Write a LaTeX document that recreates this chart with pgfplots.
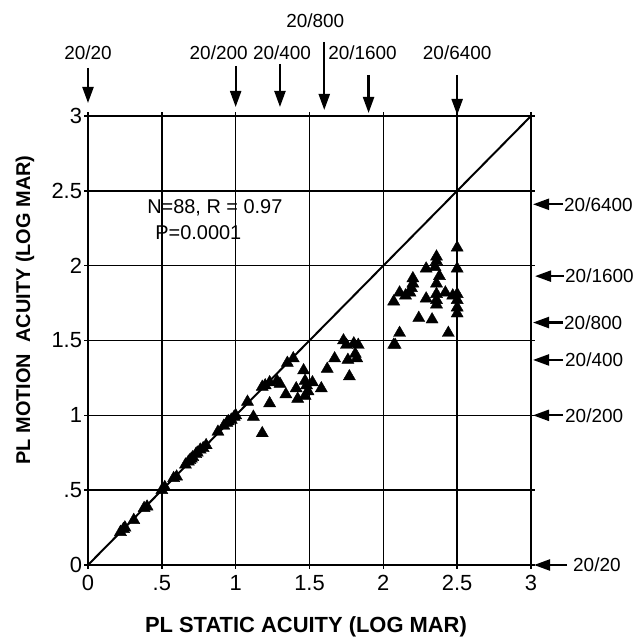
\documentclass[border=0pt]{standalone}
\usepackage{fontspec}
\setmainfont{Liberation Sans}
\usepackage{pgfplots}
\pgfplotsset{compat=1.18}
\usetikzlibrary{arrows.meta}

\begin{document}
\begin{tikzpicture}[x=1bp,y=1bp]
\path[use as bounding box] (-88,-74) rectangle (548,565);
\begin{axis}[
  at={(0,0)}, anchor=south west,
  scale only axis, width=443bp, height=449bp,
  xmin=0, xmax=3, ymin=0, ymax=3,
  xtick={0,0.5,1,1.5,2,2.5,3}, ytick={0,0.5,1,1.5,2,2.5,3},
  xticklabels={0,.5,1,1.5,2,2.5,3}, yticklabels={0,.5,1,1.5,2,2.5,3},
  grid=major, major grid style={black, line width=1.5pt},
  axis line style={black, line width=1.9pt},
  tick style={black, line width=1.4pt}, tick align=center, major tick length=7bp,
  xtick pos=both, ytick pos=both,
  xticklabel pos=lower, yticklabel pos=left,
  ticklabel style={font=\fontsize{22}{25}\selectfont},
  xticklabel style={yshift=-3bp},
  yticklabel style={xshift=1bp},
  /pgf/number format/assume math mode=true,
  clip=false,
  xlabel={\fontsize{22}{26}\selectfont\bfseries PL STATIC ACUITY (LOG MAR)},
  xlabel style={at={(axis description cs:0.492,-0.138)}, anchor=center},
  ylabel={\fontsize{20}{24}\selectfont\bfseries PL MOTION\ \ ACUITY (LOG MAR)},
  ylabel style={at={(axis description cs:-0.142,0.568)}, anchor=center, rotate=0},
]
\addplot[black, line width=2pt, no marks] coordinates {(0,0) (3,3)};
\addplot[only marks, mark=triangle*, mark size=7pt, black] coordinates {
(0.22,0.22) (0.24,0.24) (0.25,0.25) (0.31,0.30) (0.38,0.38) (0.40,0.39)
(0.50,0.50) (0.52,0.52) (0.58,0.58) (0.60,0.59) (0.66,0.67) (0.68,0.69)
(0.69,0.70) (0.70,0.71) (0.71,0.72) (0.73,0.74) (0.74,0.75) (0.76,0.77)
(0.78,0.78) (0.80,0.80) (0.88,0.89) (0.92,0.93) (0.94,0.95) (0.95,0.96)
(0.97,0.97) (0.99,0.99) (1.00,1.00)
(1.08,1.09) (1.12,0.99) (1.18,0.88) (1.18,1.19) (1.20,1.20) (1.23,1.08)
(1.23,1.22) (1.28,1.23) (1.30,1.21) (1.34,1.14) (1.35,1.35) (1.39,1.38)
(1.41,1.18) (1.42,1.11) (1.46,1.30) (1.47,1.23) (1.48,1.20) (1.47,1.13)
(1.49,1.16) (1.52,1.22) (1.58,1.18) (1.62,1.31) (1.67,1.38) (1.73,1.50)
(1.75,1.47) (1.76,1.37) (1.77,1.26) (1.80,1.48) (1.81,1.41) (1.82,1.38)
(1.83,1.47) (2.07,1.47)
(2.50,2.12) (2.50,1.98) (2.50,1.81) (2.50,1.77) (2.50,1.68) (2.50,1.72)
(2.36,2.06) (2.36,2.03) (2.35,1.99) (2.36,1.88) (2.36,1.81) (2.42,1.82)
(2.36,1.77) (2.36,1.74) (2.29,1.98) (2.29,1.78) (2.20,1.915) (2.20,1.88)
(2.19,1.85) (2.18,1.82) (2.11,1.82) (2.07,1.76) (2.24,1.65) (2.33,1.64)
(2.11,1.55) (2.08,1.47) (2.44,1.55) (2.15,1.80) (2.38,1.93) (2.47,1.80)
};
% annotation
\node[anchor=west, inner sep=0pt, font=\fontsize{20}{23}\selectfont] at (axis cs:0.40,2.385) {N=88, R = 0.97};
\node[anchor=west, inner sep=0pt, font=\fontsize{20}{23}\selectfont] at (axis cs:0.455,2.22) {P=0.0001};
% top arrows
\tikzset{arr/.style={line width=2.2bp, -{Triangle[length=16bp,width=11bp]}},
         lab/.style={font=\fontsize{19}{22}\selectfont, inner sep=0pt, anchor=center}}
\draw[arr] ([yshift=48bp]axis cs:0,3) -- ([yshift=13bp]axis cs:0,3);
\node[lab] at ([yshift=63bp]axis cs:0,3) {20/20};
\draw[arr] ([yshift=50bp]axis cs:1,3) -- ([yshift=9bp]axis cs:1,3);
\node[lab] at ([yshift=63bp,xshift=-17bp]axis cs:1,3) {20/200};
\draw[arr] ([yshift=52bp]axis cs:1.3,3) -- ([yshift=9bp]axis cs:1.3,3);
\node[lab] at ([yshift=63bp,xshift=2bp]axis cs:1.3,3) {20/400};
\draw[arr] ([yshift=74bp]axis cs:1.6,3) -- ([yshift=6bp]axis cs:1.6,3);
\node[lab] at ([yshift=95bp,xshift=-9bp]axis cs:1.6,3) {20/800};
\draw[arr] ([yshift=41bp]axis cs:1.9,3) -- ([yshift=3bp]axis cs:1.9,3);
\node[lab] at ([yshift=63bp,xshift=-6bp]axis cs:1.9,3) {20/1600};
\draw[arr] ([yshift=41bp]axis cs:2.5,3) -- ([yshift=1bp]axis cs:2.5,3);
\node[lab] at ([yshift=63bp]axis cs:2.5,3) {20/6400};
% right arrows
\draw[arr] ([xshift=32bp]axis cs:3,2.41) -- ([xshift=2bp]axis cs:3,2.41);
\node[lab, anchor=west] at ([xshift=33bp]axis cs:3,2.41) {20/6400};
\draw[arr] ([xshift=33bp]axis cs:3,1.93) -- ([xshift=4bp]axis cs:3,1.93);
\node[lab, anchor=west] at ([xshift=34bp]axis cs:3,1.93) {20/1600};
\draw[arr] ([xshift=32bp]axis cs:3,1.62) -- ([xshift=2bp]axis cs:3,1.62);
\node[lab, anchor=west] at ([xshift=33bp]axis cs:3,1.62) {20/800};
\draw[arr] ([xshift=32bp]axis cs:3,1.37) -- ([xshift=2bp]axis cs:3,1.37);
\node[lab, anchor=west] at ([xshift=34bp]axis cs:3,1.37) {20/400};
\draw[arr] ([xshift=32bp]axis cs:3,1.0) -- ([xshift=2bp]axis cs:3,1.0);
\node[lab, anchor=west] at ([xshift=34bp]axis cs:3,1.0) {20/200};
\draw[arr] ([xshift=36bp]axis cs:3,0) -- ([xshift=3bp]axis cs:3,0);
\node[lab, anchor=west] at ([xshift=42bp]axis cs:3,0) {20/20};
\end{axis}
\end{tikzpicture}
\end{document}
